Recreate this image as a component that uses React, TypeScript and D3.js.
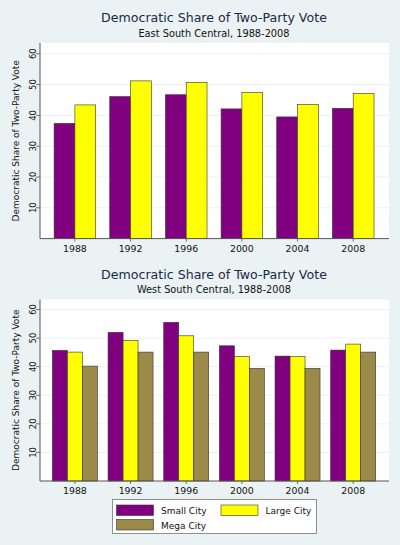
import React from "react";
import * as d3 from "d3";

const years = ["1988", "1992", "1996", "2000", "2004", "2008"];
const eastSmall = [37.4, 46.1, 46.7, 42.1, 39.5, 42.3];
const eastLarge = [43.4, 51.2, 50.7, 47.4, 43.6, 47.1];
const westSmall = [45.7, 52.0, 55.5, 47.3, 43.7, 45.8];
const westLarge = [45.1, 49.1, 50.8, 43.5, 43.5, 47.9];
const westMega = [40.2, 45.1, 45.1, 39.4, 39.4, 45.1];
const yTicks = [10, 20, 30, 40, 50, 60];
const seriesNames = ["Small City", "Large City", "Mega City"];
const colors = ["#800080", "#ffff00", "#9c8a4a"];

const BG = "#eaf2f3";
const FONT = "DejaVu Sans, Verdana, sans-serif";

type PanelProps = {
  top: number;
  bottom: number;
  title: string;
  subtitle: string;
  titleY: number;
  subtitleY: number;
  series: number[][];
  groupWidth: number;
};

function Panel({ top, bottom, title, subtitle, titleY, subtitleY, series, groupWidth }: PanelProps) {
  const left = 40;
  const right = 389;
  const y = d3.scaleLinear().domain([0, 63.5]).range([bottom, top]);
  const x = d3.scalePoint<string>().domain(years).range([74.9, 353.2]);
  const bw = groupWidth / series.length;
  return (
    <g>
      <text x={214} y={titleY} textAnchor="middle" fontFamily={FONT} fontSize={12.6} fill="#1a2a4a">
        {title}
      </text>
      <text x={214} y={subtitleY} textAnchor="middle" fontFamily={FONT} fontSize={9.8} fill="#111">
        {subtitle}
      </text>
      <rect x={left} y={top} width={right - left} height={bottom - top} fill="#ffffff" />
      {yTicks.map((t) => (
        <g key={t}>
          <line x1={left} x2={right} y1={y(t)} y2={y(t)} stroke="#eaf2f3" strokeWidth={1} />
          <line x1={left - 4} x2={left} y1={y(t)} y2={y(t)} stroke="#555" strokeWidth={0.8} />
          <text
            transform={`translate(${left - 4},${y(t)}) rotate(-90)`}
            textAnchor="middle"
            fontFamily={FONT}
            fontSize={8.4}
            fill="#111"
          >
            {t}
          </text>
        </g>
      ))}
      {years.map((yr, i) => (
        <g key={yr}>
          {series.map((s, k) => {
            const x0 = (x(yr) as number) - groupWidth / 2 + k * bw;
            return (
              <rect
                key={k}
                x={x0}
                y={y(s[i])}
                width={bw}
                height={y(0) - y(s[i])}
                fill={colors[k]}
                stroke="#333"
                strokeWidth={0.6}
              />
            );
          })}
          <line x1={x(yr)} x2={x(yr)} y1={bottom} y2={bottom + 3} stroke="#555" strokeWidth={0.8} />
          <text x={x(yr)} y={bottom + 13} textAnchor="middle" fontFamily={FONT} fontSize={9.4} fill="#111">
            {yr}
          </text>
        </g>
      ))}
      <line x1={left} x2={left} y1={top} y2={bottom} stroke="#555" strokeWidth={1} />
      <line x1={left} x2={right} y1={bottom} y2={bottom} stroke="#555" strokeWidth={1} />
      <text
        transform={`translate(18.5,${(top + bottom) / 2}) rotate(-90)`}
        textAnchor="middle"
        fontFamily={FONT}
        fontSize={9}
        fill="#111"
      >
        Democratic Share of Two-Party Vote
      </text>
    </g>
  );
}

export default function App() {
  return (
    <svg
      width={400}
      height={545}
      style={{ position: "absolute", left: 0, top: 0, display: "block" }}
    >
      <rect x={0} y={0} width={400} height={545} fill={BG} />
      <Panel
        top={43}
        bottom={238.6}
        title="Democratic Share of Two-Party Vote"
        subtitle="East South Central, 1988-2008"
        titleY={21.5}
        subtitleY={36.5}
        series={[eastSmall, eastLarge]}
        groupWidth={41.6}
      />
      <Panel
        top={299.5}
        bottom={481}
        title="Democratic Share of Two-Party Vote"
        subtitle="West South Central, 1988-2008"
        titleY={278.5}
        subtitleY={292.8}
        series={[westSmall, westLarge, westMega]}
        groupWidth={45}
      />
      <g>
        <rect x={112.5} y={499.5} width={204} height={34} fill="#fff" stroke="#777" strokeWidth={0.8} />
        {seriesNames.map((n, k) => {
          const col = k === 1 ? 1 : 0;
          const row = k === 2 ? 1 : 0;
          const sx = col === 0 ? 116.5 : 221;
          const sy = row === 0 ? 505 : 519.5;
          return (
            <g key={n}>
              <rect x={sx} y={sy} width={37} height={10.5} fill={colors[k]} stroke="#333" strokeWidth={0.6} />
              <text x={sx + 44.5} y={sy + 9} fontFamily={FONT} fontSize={9} fill="#111">
                {n}
              </text>
            </g>
          );
        })}
      </g>
    </svg>
  );
}
